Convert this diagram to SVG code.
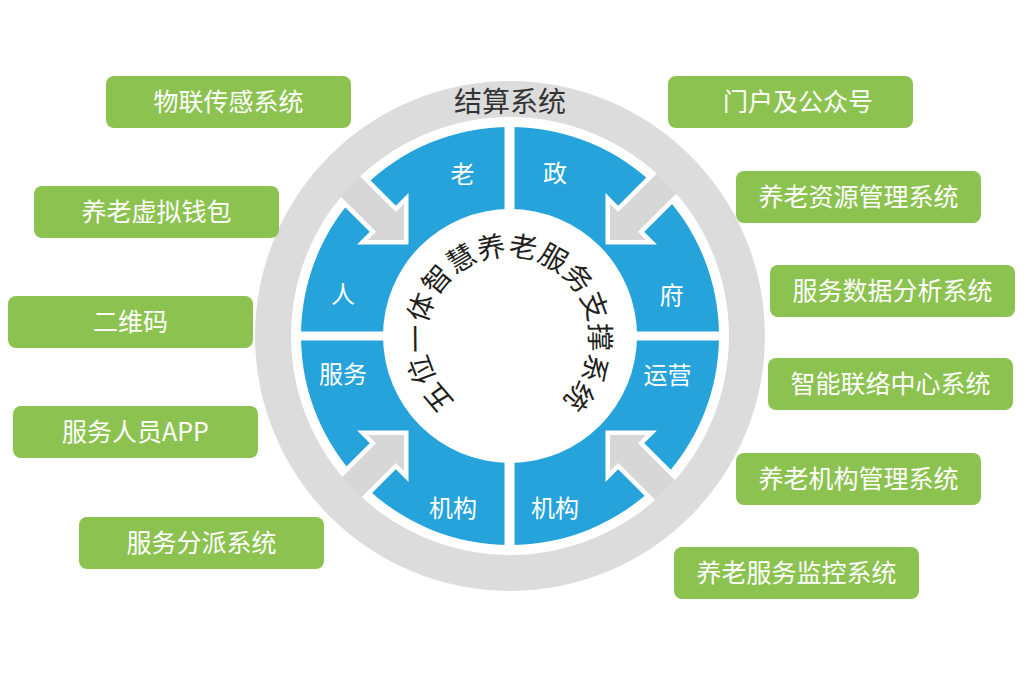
<svg xmlns="http://www.w3.org/2000/svg" width="1024" height="683" viewBox="0 0 1024 683">
<style>
.box{fill:#8cc350;}
.bt{font-family:"Noto Sans CJK SC","Noto Sans",sans-serif;font-size:25px;fill:#fff;text-anchor:middle;}
.seg{font-family:"Noto Sans CJK SC","Noto Sans",sans-serif;font-size:24px;fill:#fff;text-anchor:middle;}
.arc{font-family:"Noto Sans CJK SC","Noto Sans",sans-serif;font-size:28px;fill:#231f20;text-anchor:middle;}
.arrow{fill:#d7d7d7;stroke:#fff;stroke-width:9;stroke-linejoin:miter;paint-order:stroke;}
</style>
<defs>
<polygon id="arr" points="0,0 -25.5,-25.5 -25.5,-14 -95,-14 -95,14 -25.5,14 -25.5,25.5"/>
</defs>
<rect width="1024" height="683" fill="#fff"/>
<g id="wheel">
<path fill="#27a3dc" fill-rule="evenodd" d="M301 336A209 209 0 1 0 719 336A209 209 0 1 0 301 336ZM383 336A127 127 0 1 0 637 336A127 127 0 1 0 383 336Z"/>
<rect x="504.5" y="124" width="10" height="424" fill="#fff"/>
<rect x="297" y="331.5" width="426" height="9" fill="#fff"/>
</g>
<g id="connectors">
<use href="#arr" class="arrow" transform="translate(404,240) rotate(45)"/>
<use href="#arr" class="arrow" transform="translate(610,240) rotate(135)"/>
<use href="#arr" class="arrow" transform="translate(404,435) rotate(-45)"/>
<use href="#arr" class="arrow" transform="translate(610,435) rotate(-135)"/>
</g>
<g id="ring">
<path fill="#dcdcdc" fill-rule="evenodd" d="M255 336A255 255 0 1 0 765 336A255 255 0 1 0 255 336ZM291 336A219 219 0 1 0 729 336A219 219 0 1 0 291 336Z"/>
<text x="510" y="112" font-family="Noto Sans CJK SC, sans-serif" font-size="28" fill="#333" text-anchor="middle">结算系统</text>
</g>
<g id="segments">
<text class="seg" x="462.5" y="182.5">老</text>
<text class="seg" x="555" y="182">政</text>
<text class="seg" x="671.5" y="304">府</text>
<text class="seg" x="667.5" y="384">运营</text>
<text class="seg" x="555" y="517">机构</text>
<text class="seg" x="453" y="517">机构</text>
<text class="seg" x="343" y="383">服务</text>
<text class="seg" x="343" y="303">人</text>
</g>
<g id="center-title">
<text class="arc" x="508" y="256" transform="rotate(-130.5 508 338)">五</text>
<text class="arc" x="508" y="256" transform="rotate(-110.5 508 338)">位</text>
<text class="arc" x="508" y="256" transform="rotate(-90.5 508 338)">一</text>
<text class="arc" x="508" y="256" transform="rotate(-70.5 508 338)">体</text>
<text class="arc" x="508" y="256" transform="rotate(-50.5 508 338)">智</text>
<text class="arc" x="508" y="256" transform="rotate(-30.5 508 338)">慧</text>
<text class="arc" x="508" y="256" transform="rotate(-10.5 508 338)">养</text>
<text class="arc" x="508" y="256" transform="rotate(9.5 508 338)">老</text>
<text class="arc" x="508" y="256" transform="rotate(29.5 508 338)">服</text>
<text class="arc" x="508" y="256" transform="rotate(49.5 508 338)">务</text>
<text class="arc" x="508" y="256" transform="rotate(69.5 508 338)">支</text>
<text class="arc" x="508" y="256" transform="rotate(89.5 508 338)">撑</text>
<text class="arc" x="508" y="256" transform="rotate(109.5 508 338)">系</text>
<text class="arc" x="508" y="256" transform="rotate(129.5 508 338)">统</text>
</g>
<g id="box-wulian"><rect class="box" x="106" y="76" width="245" height="52" rx="8"/><text class="bt" x="228.5" y="111">物联传感系统</text></g>
<g id="box-qianbao"><rect class="box" x="34" y="186" width="245" height="52" rx="8"/><text class="bt" x="156.5" y="221">养老虚拟钱包</text></g>
<g id="box-erweima"><rect class="box" x="8" y="296" width="245" height="52" rx="8"/><text class="bt" x="130.5" y="331">二维码</text></g>
<g id="box-app"><rect class="box" x="13" y="406" width="245" height="52" rx="8"/><text class="bt" x="135.5" y="441">服务人员APP</text></g>
<g id="box-paifa"><rect class="box" x="79" y="517" width="245" height="52" rx="8"/><text class="bt" x="201.5" y="552">服务分派系统</text></g>
<g id="box-menhu"><rect class="box" x="668" y="76" width="245" height="52" rx="8"/><text class="bt" x="798" y="111">门户及公众号</text></g>
<g id="box-ziyuan"><rect class="box" x="736" y="171" width="245" height="52" rx="8"/><text class="bt" x="858.5" y="206">养老资源管理系统</text></g>
<g id="box-shuju"><rect class="box" x="770" y="265" width="245" height="52" rx="8"/><text class="bt" x="892.5" y="300">服务数据分析系统</text></g>
<g id="box-lianluo"><rect class="box" x="768" y="358" width="245" height="52" rx="8"/><text class="bt" x="890.5" y="393">智能联络中心系统</text></g>
<g id="box-jigou"><rect class="box" x="736" y="453" width="245" height="52" rx="8"/><text class="bt" x="858.5" y="488">养老机构管理系统</text></g>
<g id="box-jiankong"><rect class="box" x="674" y="547" width="245" height="52" rx="8"/><text class="bt" x="796.5" y="582">养老服务监控系统</text></g>
</svg>
